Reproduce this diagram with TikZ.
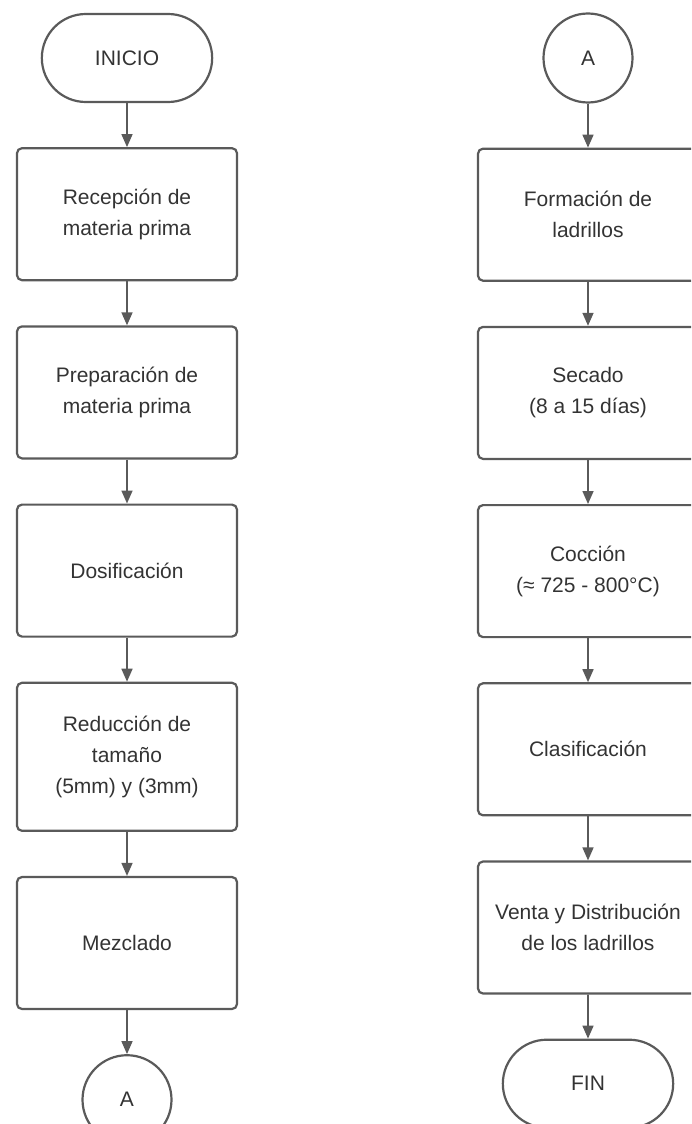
\documentclass[tikz,border=0pt]{standalone}
\usepackage{fontspec}
\setmainfont{Liberation Sans}
\usetikzlibrary{arrows.meta, positioning, shapes.misc}
\definecolor{linea}{HTML}{5A5A5A}
\definecolor{texto}{HTML}{333333}

\tikzset{
    base/.style={draw=linea, line width=2.2pt, text=texto, align=center,
        font=\fontsize{21}{31}\selectfont},
    proceso/.style={base, rounded corners=5pt, minimum width=220pt, minimum height=132pt},
    terminal/.style={base, rounded rectangle, minimum width=177pt, minimum height=88pt},
    conector/.style={base, circle, minimum size=89pt},
    flecha/.style={draw=linea, line width=1.6pt, -{Triangle[length=13pt, width=11pt]}}
}

\begin{document}
\begin{tikzpicture}[x=1pt, y=1pt, node distance=44pt]
    \clip (0,0) rectangle (691,-1124);
    \useasboundingbox (0,0) rectangle (691,-1124);

    % columna izquierda
    \node[terminal] (inicio) at (127,-58) {INICIO};
    \node[proceso, below=of inicio] (recepcion) {Recepción de\\materia prima};
    \node[proceso, below=of recepcion] (preparacion) {Preparación de\\materia prima};
    \node[proceso, below=of preparacion] (dosificacion) {Dosificación};
    \node[proceso, below=of dosificacion, minimum height=148pt] (reduccion) {Reducción de\\tamaño\\(5mm) y (3mm)};
    \node[proceso, below=of reduccion] (mezclado) {Mezclado};
    \node[conector, below=of mezclado] (a1) {A};

    % columna derecha
    \node[conector] (a2) at (588,-58) {A};
    \node[proceso, below=of a2] (formacion) {Formación de\\ladrillos};
    \node[proceso, below=of formacion] (secado) {Secado\\(8 a 15 días)};
    \node[proceso, below=of secado] (coccion) {Cocción\\(≈ 725 - 800°C)};
    \node[proceso, below=of coccion] (clasificacion) {Clasificación};
    \node[proceso, below=of clasificacion] (venta) {Venta y Distribución\\de los ladrillos};
    \node[terminal, below=of venta] (fin) {FIN};

    % flechas
    \foreach \de/\a in {inicio/recepcion, recepcion/preparacion, preparacion/dosificacion,
        dosificacion/reduccion, reduccion/mezclado, mezclado/a1,
        a2/formacion, formacion/secado, secado/coccion, coccion/clasificacion,
        clasificacion/venta, venta/fin}
        \draw[flecha] (\de) -- (\a);
\end{tikzpicture}
\end{document}
